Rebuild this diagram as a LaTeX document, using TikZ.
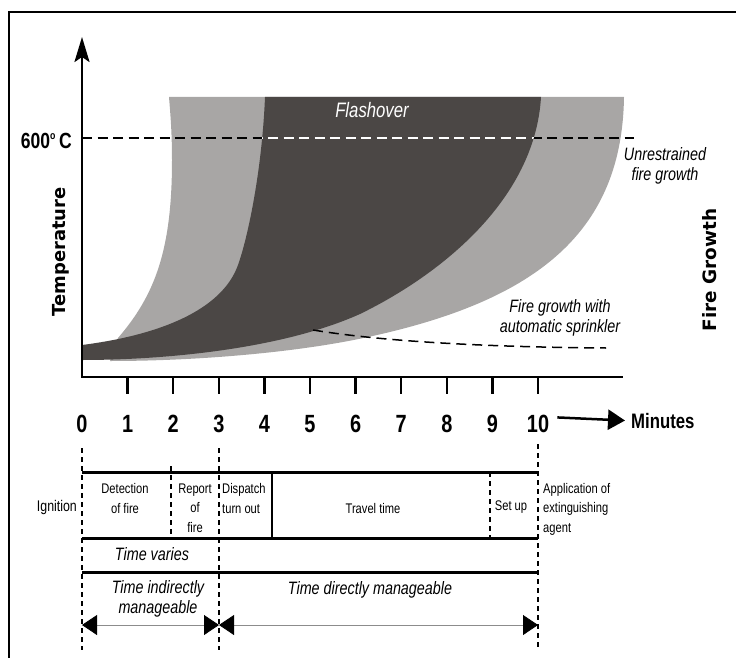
\documentclass[tikz,border=0pt]{standalone}
\usepackage{fontspec}
\setmainfont{Liberation Sans}
\newfontfamily\cond{Liberation Sans}[FakeStretch=0.8]
\newfontfamily\wide{DejaVu Sans}
\usetikzlibrary{arrows.meta}
\definecolor{darkfire}{RGB}{75,71,69}
\definecolor{lightfire}{RGB}{168,166,165}
\begin{document}
\begin{tikzpicture}[x=1bp,y=-1bp,
  num/.style={font=\cond\bfseries\fontsize{25}{25}\selectfont,inner sep=0pt,anchor=base},
  lab/.style={font=\cond\fontsize{14}{19.5}\selectfont,inner sep=0pt,align=center,anchor=base},
  itl/.style={font=\cond\itshape\fontsize{18}{20}\selectfont,inner sep=0pt,align=center,anchor=base},
  axtitle/.style={font=\wide\bfseries\fontsize{18}{18}\selectfont,inner sep=0pt,rotate=90},
  hrule/.style={line width=3bp},
  vdash/.style={line width=1.1bp,dash pattern=on 5bp off 4bp},
  hdash/.style={line width=1.8bp,dash pattern=on 10bp off 5.5bp},
  spanarrow/.style={line width=0.8bp,draw=black!45,{Triangle[length=15bp,width=20bp,black]}-{Triangle[length=15bp,width=20bp,black]}},
]
\useasboundingbox (0,0) rectangle (736,658);
% frame
\draw[line width=2bp] (9,660) -- (9,12) -- (738,12);
% light grey band
\fill[lightfire] (110,361) -- (118,338)
  .. controls (155,295) and (172,250) .. (172,160)
  .. controls (172,130) and (170,110) .. (169,97)
  -- (624,97)
  .. controls (622,230) and (540,300) .. (368,337)
  .. controls (300,352) and (200,361) .. (110,361) -- cycle;
% 600 C line
\draw[hdash] (82,138) -- (634,138);
% dark band
\begin{scope}
\clip (82,345)
  .. controls (160,335) and (222,310) .. (238,265)
  .. controls (248,237) and (262,170) .. (265,97)
  -- (541,97)
  .. controls (535,200) and (440,275) .. (360,314)
  .. controls (280,350) and (160,360) .. (82,360) -- cycle;
\fill[darkfire] (0,0) rectangle (736,658);
\draw[hdash,white] (82,138) -- (634,138);
\end{scope}
% sprinkler curve
\draw[line width=1.5bp,dash pattern=on 10bp off 6bp] (313,330) .. controls (380,341) and (480,347) .. (606,348);
% axes
\draw[line width=2.5bp,{Stealth[length=25bp,width=15bp,inset=5bp]}-] (82,37) -- (82,377) -- (623,377);
\foreach \i in {1,...,10} \draw[line width=2.5bp] ({82+45.6*\i},377) -- ++(0,17);
\foreach \i in {0,...,10} \node[num] (n\i) at ({82+45.6*\i},432) {\i};
\node[font=\cond\bfseries\fontsize{21}{21}\selectfont,inner sep=0pt,anchor=base west] (minutes) at (631,428) {Minutes};
\draw[line width=2.5bp,-{Triangle[length=17bp,width=20bp]}] ([xshift=8bp,yshift=6bp]n10.east) -- ([xshift=-6bp]minutes.west);
% axis texts
\node[font=\cond\bfseries\fontsize{22}{22}\selectfont,inner sep=0pt,anchor=base east] (deg) at (72,148) {600\raisebox{8bp}{\fontsize{11}{11}\selectfont o}\,C};
\node[axtitle] (temp) at (61,252) {Temperature};
\node[axtitle,font=\wide\bfseries\fontsize{18.5}{18.5}\selectfont] (fg) at (710,270) {Fire Growth};
\node[itl,text=white,font=\cond\itshape\fontsize{21}{21}\selectfont] (flash) at (372,118) {Flashover};
\node[itl] (unr) at (665,180) {Unrestrained\\fire growth};
\node[itl] (spr) at (560,332) {Fire growth with\\automatic sprinkler};
% timeline
\draw[vdash] (82,448) -- (82,650);
\draw[vdash] (219,448) -- (219,650);
\draw[vdash] (538,444) -- (538,648);
\draw[vdash] (171,466) -- (171,538);
\draw[vdash] (490,472) -- (490,538);
\draw[line width=1.2bp] (272,472) -- (272,538);
\draw[hrule] (82,472) -- (538,472);
\draw[hrule] (82,538) -- (538,538);
\draw[hrule] (82,572) -- (538,572);
\node[lab,anchor=base east,font=\cond\fontsize{15.5}{19.5}\selectfont] (ign) at (77,511) {Ignition};
\node[lab] (det) at (125,513) {Detection\\of fire};
\node[lab] (rep) at (195,532) {Report\\of\\fire};
\node[lab,align=left,anchor=base west] (dis) at (222,513) {Dispatch\\turn out};
\node[lab] (trav) at (373,513) {Travel time};
\node[lab] (set) at (511,510) {Set up};
\node[lab,align=left,anchor=base west] (app) at (543,532) {Application of\\extinguishing\\agent};
\node[itl] (tv) at (152,560) {Time varies};
\node[itl] (tim) at (158,613) {Time indirectly\\manageable};
\node[itl] (tdm) at (370,594) {Time directly manageable};
\coordinate (t0) at (82,625);
\coordinate (t3) at (219,625);
\coordinate (t10) at (538,625);
\draw[spanarrow] (t0) -- (t3);
\draw[spanarrow] (t3) -- (t10);
\end{tikzpicture}
\end{document}
